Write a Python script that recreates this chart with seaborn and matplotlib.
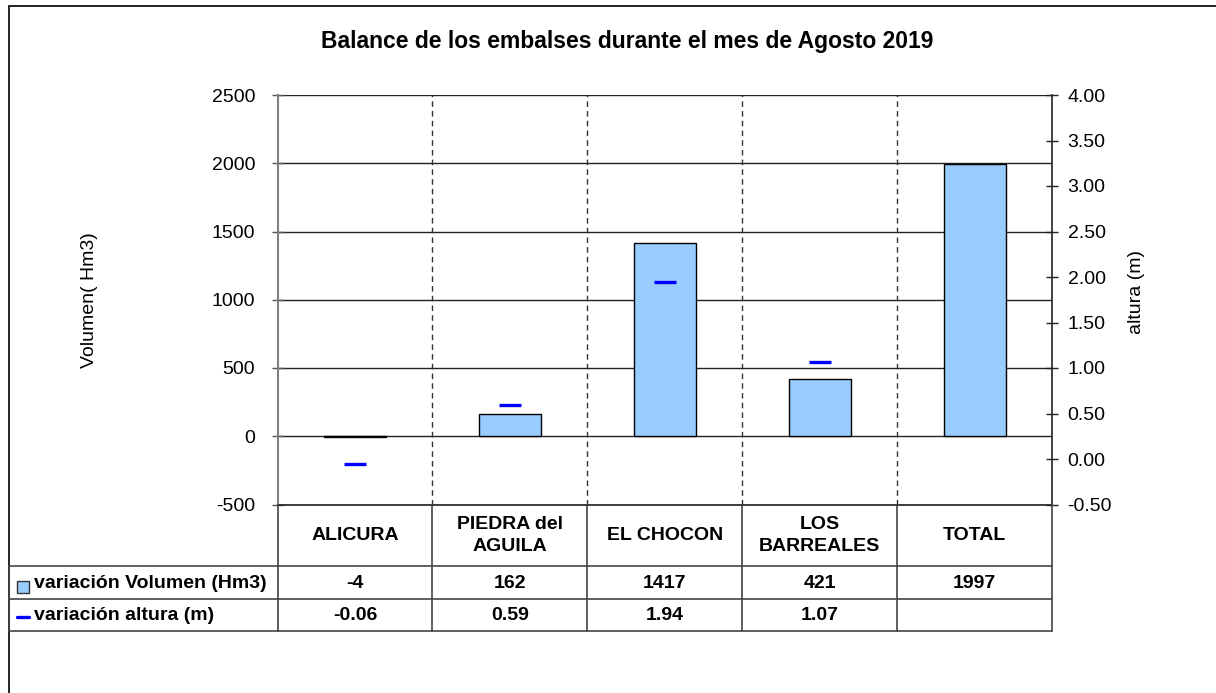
import numpy as np
import pandas as pd
import matplotlib
matplotlib.use("Agg")
import matplotlib.pyplot as plt
from matplotlib.lines import Line2D
from matplotlib.patches import Rectangle
from matplotlib.transforms import blended_transform_factory
import seaborn as sns

# ---- data ----
categorias = ["ALICURA", "PIEDRA del\nAGUILA", "EL CHOCON", "LOS\nBARREALES", "TOTAL"]
volumenes = [-4, 162, 1417, 421, 1997]
alturas = [-0.06, 0.59, 1.94, 1.07]
vol_ticks = [-500, 0, 500, 1000, 1500, 2000, 2500]
alt_ticks = [-0.5, 0.0, 0.5, 1.0, 1.5, 2.0, 2.5, 3.0, 3.5, 4.0]
serie_vol = "variación Volumen (Hm3)"
serie_alt = "variación altura (m)"
titulo = "Balance de los embalses durante el mes de Agosto 2019"

sns.set_theme(style="white")
plt.rcParams["font.family"] = ["Liberation Sans", "DejaVu Sans"]
plt.rcParams["axes.unicode_minus"] = False

W, H = 1216, 693
fig = plt.figure(figsize=(W / 100, H / 100), dpi=100)
fig.patch.set_facecolor("white")

def fx(px):
    return px / W

def fy(py):
    return 1 - py / H

ax_l, ax_r, ax_t, ax_b = 277.5, 1052, 95, 504.5
ax = fig.add_axes([fx(ax_l), fy(ax_b), fx(ax_r - ax_l), (ax_b - ax_t) / H])
ax.set_facecolor("none")

df_vol = pd.DataFrame({"embalse": categorias, "volumen": volumenes})
sns.barplot(data=df_vol, x="embalse", y="volumen", order=categorias,
            color="#99CCFF", saturation=1, edgecolor="black", linewidth=1,
            width=0.4, ax=ax, zorder=3)

ax.set_ylim(vol_ticks[0], vol_ticks[-1])
ax.set_yticks(vol_ticks)
ax.set_xlim(-0.5, len(categorias) - 0.5)
ax.set_xticks([])
ax.set_xlabel("")
ax.set_ylabel("Volumen( Hm3)", fontsize=14, color="black")
ax.yaxis.set_label_coords((98 - ax_l) / (ax_r - ax_l), 0.5)

ax.set_axisbelow(True)
ax.yaxis.grid(True, color="#222222", linewidth=1.0)
ax.xaxis.grid(False)
for b in np.arange(len(categorias) - 1) + 0.5:
    ax.axvline(b, color="#333333", linewidth=1.0, linestyle=(0, (4, 3)), zorder=1)

ax.tick_params(axis="y", direction="inout", length=8, width=1, color="#555555",
               labelsize=14, labelcolor="black", pad=12, left=True)
for s in ["top", "right"]:
    ax.spines[s].set_visible(False)
ax.spines["bottom"].set_color("#222222")
ax.spines["bottom"].set_linewidth(1.2)
ax.spines["left"].set_color("#808080")
ax.spines["left"].set_linewidth(1.5)

# secondary axis
ax2 = ax.twinx()
df_alt = pd.DataFrame({"embalse": categorias[:len(alturas)], "altura": alturas})
sns.pointplot(data=df_alt, x="embalse", y="altura", order=categorias,
              ax=ax2, linestyle="none", marker="_", markersize=16,
              markeredgewidth=2.4, color="#0000FF", errorbar=None)
ax2.set_ylim(alt_ticks[0], alt_ticks[-1])
ax2.set_yticks(alt_ticks)
ax2.set_yticklabels([f"{t:.2f}" for t in alt_ticks])
ax2.set_xlim(-0.5, len(categorias) - 0.5)
ax2.set_xticks([])
ax2.set_xlabel("")
ax2.set_ylabel("altura (m)", fontsize=14, color="black")
ax2.yaxis.set_label_coords((1128 - ax_l) / (ax_r - ax_l), (ax_b - 292) / (ax_b - ax_t))
ax2.tick_params(axis="y", direction="inout", length=8.5, width=1, color="#222222",
                labelsize=14, labelcolor="black", pad=7, right=True)
for s in ["top", "left", "bottom"]:
    ax2.spines[s].set_visible(False)
ax2.spines["right"].set_color("#222222")
ax2.spines["right"].set_linewidth(1.2)
ax2.grid(False)

# ---- title ----
fig.text(fx(627), fy(48), titulo, ha="center", va="baseline",
         fontsize=16.5, fontweight="bold", color="black")

# ---- chart area border ----
fig.patches.append(Rectangle((fx(9), fy(H + 20)), fx(W + 20), (H + 20 - 6) / H,
                             transform=fig.transFigure, fill=False,
                             edgecolor="#111111", linewidth=1.3))

# ---- data table ----
tr = blended_transform_factory(ax.transData, fig.transFigure)
row_y = [ax_b, 566, 599, 631]
edge_l = -0.5
edge_r = len(categorias) - 0.5
lc = "#444444"

def hline(y, x0, x1, transform):
    fig.add_artist(Line2D([x0, x1], [fy(y), fy(y)], transform=transform,
                          color=lc, linewidth=1.2))

def vline(x, y0, y1, transform):
    fig.add_artist(Line2D([x, x], [fy(y0), fy(y1)], transform=transform,
                          color=lc, linewidth=1.2))

for y in row_y[1:]:
    hline(y, fx(9), fx(ax_l), fig.transFigure)
    hline(y, edge_l, edge_r, tr)
for b in np.arange(len(categorias) + 1) - 0.5:
    vline(b, row_y[0], row_y[-1], tr)
vline(fx(9), row_y[1], row_y[-1], fig.transFigure)

for i, cat in enumerate(categorias):
    fig.text(i, fy((row_y[0] + row_y[1]) / 2), cat, transform=tr,
             ha="center", va="center", fontsize=14, fontweight="bold",
             linespacing=1.35, color="black")
    fig.text(i, fy((row_y[1] + row_y[2]) / 2 + 1), f"{volumenes[i]}", transform=tr,
             ha="center", va="center", fontsize=14, fontweight="bold", color="black")
    if i < len(alturas):
        fig.text(i, fy((row_y[2] + row_y[3]) / 2 + 1), f"{alturas[i]:.2f}", transform=tr,
                 ha="center", va="center", fontsize=14, fontweight="bold", color="black")

# row labels with legend keys
fig.patches.append(Rectangle((fx(17), fy(593)), fx(12), 12 / H, transform=fig.transFigure,
                             facecolor="#99CCFF", edgecolor="#333333", linewidth=1))
fig.text(fx(34), fy((row_y[1] + row_y[2]) / 2 + 1), serie_vol, ha="left", va="center",
         fontsize=14, fontweight="bold", color="black")
fig.add_artist(Line2D([fx(17), fx(29)], [fy(617), fy(617)], transform=fig.transFigure,
                      color="#0000FF", linewidth=2.4))
fig.text(fx(34), fy((row_y[2] + row_y[3]) / 2 + 1), serie_alt, ha="left", va="center",
         fontsize=14, fontweight="bold", color="black")

fig.savefig("out.png", dpi=100, facecolor="white")
